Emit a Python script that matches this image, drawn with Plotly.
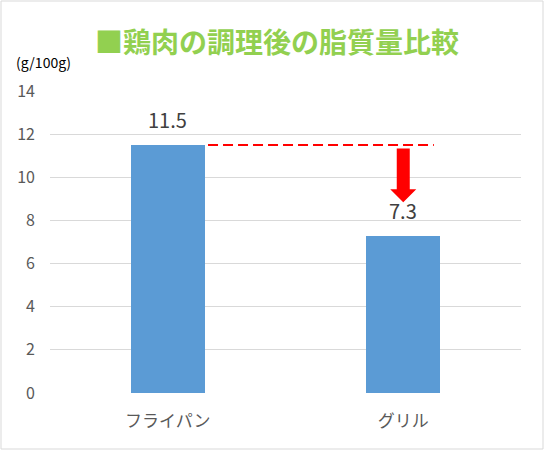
import plotly.graph_objects as go

categories = ["フライパン", "グリル"]
values = [11.5, 7.3]
y_ticks = [0, 2, 4, 6, 8, 10, 12, 14]
title_text = "■鶏肉の調理後の脂質量比較"
unit_text = "(g/100g)"

W, H = 545, 452
ML, MR, MT, MB = 50, 24, 91, 59
PW, PH = W - ML - MR, H - MT - MB


def px_x(px):
    return (px - ML) / PW


def px_y(py):
    return (H - MB - py) / PH


fig = go.Figure()
fig.add_trace(go.Bar(
    x=[0, 1], y=values, width=0.314,
    marker=dict(color="#5B9BD5", line=dict(width=0)),
    hoverinfo="skip",
))

# data labels
for i, v in enumerate(values):
    fig.add_annotation(x=i, y=v, xref="x", yref="y", text=f"{v:.1f}",
                       showarrow=False, yanchor="bottom", yshift=9,
                       font=dict(family="Noto Sans CJK JP", size=20, color="#404040"))

# dashed reference line at first value
fig.add_shape(type="line", xref="x", yref="y",
              x0=0.171, x1=1.13, y0=values[0], y1=values[0],
              line=dict(color="#FF0000", width=2, dash="10px,5px"))

# down arrow
sx, hx = 0.0276, 0.0552
top = values[0] - 0.16
tip = values[1] + 1.54
hb = tip + 0.6
path = (f"M {1 - sx},{top} L {1 + sx},{top} L {1 + sx},{hb} L {1 + hx},{hb} "
        f"L 1,{tip} L {1 - hx},{hb} L {1 - sx},{hb} Z")
fig.add_shape(type="path", xref="x", yref="y", path=path,
              fillcolor="#FF0000", line=dict(width=0))

# outer border
fig.add_shape(type="rect", xref="paper", yref="paper",
              x0=px_x(1), x1=px_x(W - 2), y0=px_y(449), y1=px_y(1),
              line=dict(color="#D9D9D9", width=1), fillcolor="rgba(0,0,0,0)", layer="below")

# title
fig.add_annotation(xref="paper", yref="paper",
                   x=px_x(277), y=px_y(41), text=f"<b>{title_text}</b>",
                   showarrow=False, xanchor="center", yanchor="middle",
                   font=dict(family="Noto Sans CJK JP", size=28, color="#92D050"))
# unit
fig.add_annotation(xref="paper", yref="paper",
                   x=px_x(14), y=px_y(62), text=unit_text,
                   showarrow=False, xanchor="left", yanchor="middle",
                   font=dict(family="Noto Sans CJK JP", size=14, color="#000000"))

fig.update_layout(
    width=W, height=H,
    margin=dict(l=ML, r=MR, t=MT, b=MB, autoexpand=False),
    paper_bgcolor="white", plot_bgcolor="white",
    showlegend=False,
    xaxis=dict(tickmode="array", tickvals=[0, 1], ticktext=categories,
               range=[-0.5, 1.5], showgrid=False, zeroline=False, showline=False,
               ticks="", ticklabelstandoff=16, automargin=False,
               tickfont=dict(family="Noto Sans CJK JP", size=17, color="#595959")),
    yaxis=dict(range=[0, 14], tickvals=y_ticks, showgrid=True, gridcolor="#D9D9D9",
               gridwidth=1, zeroline=False, showline=False, ticks="",
               ticklabelstandoff=14, automargin=False,
               tickfont=dict(family="Noto Sans CJK JP", size=16, color="#595959")),
    bargap=0,
)

fig.write_html("out.html", config={"displayModeBar": False, "staticPlot": True},
               post_script="document.body.style.margin='0';document.body.style.overflow='hidden';")
